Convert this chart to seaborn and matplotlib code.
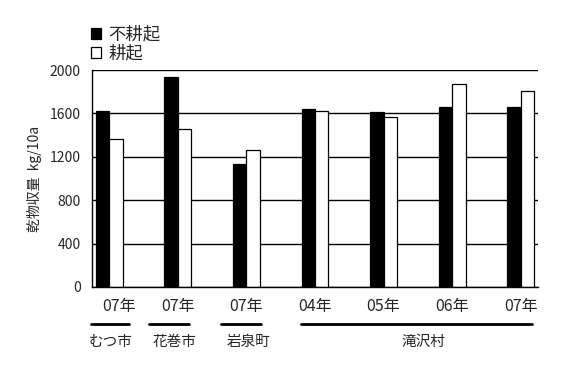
import numpy as np
import pandas as pd
import seaborn as sns
import matplotlib.pyplot as plt
import matplotlib.transforms as mtransforms

# 13 slots: site/year bars with empty spacer slots between them
slots = ["m07", "s1", "h07", "s2", "i07", "s3", "t04", "s4", "t05", "s5", "t06", "s6", "t07"]
year_labels = ["07年", "", "07年", "", "07年", "", "04年", "", "05年", "", "06年", "", "07年"]
no_till = [1620, np.nan, 1935, np.nan, 1130, np.nan, 1640, np.nan, 1610, np.nan, 1660, np.nan, 1660]
till = [1360, np.nan, 1460, np.nan, 1265, np.nan, 1620, np.nan, 1570, np.nan, 1870, np.nan, 1805]
series = ["不耕起", "耕起"]
sites = ["むつ市", "花巻市", "岩泉町", "滝沢村"]

df = pd.DataFrame({
    "slot": slots * 2,
    "value": no_till + till,
    "treat": [series[0]] * len(slots) + [series[1]] * len(slots),
})

sns.set_theme(style="white")
plt.rcParams["font.family"] = ["Noto Sans CJK JP", "DejaVu Sans"]

fig = plt.figure(figsize=(5.74, 3.77), dpi=100)
ax = fig.add_axes([92 / 574, 1 - 287 / 377, (538 - 92) / 574, (287 - 70) / 377])

sns.barplot(data=df, x="slot", y="value", hue="treat", order=slots,
            palette=["black", "white"], edgecolor="black", linewidth=0.9,
            width=0.78, ax=ax, legend=True)

ax.set_xlim(-0.5, len(slots) - 0.5)
ax.set_ylim(0, 2000)
ax.set_yticks(np.arange(0, 2001, 400))
ax.yaxis.grid(True, color="black", linewidth=1)
ax.set_axisbelow(True)
for s in ["top", "right"]:
    ax.spines[s].set_visible(False)
for s in ["left", "bottom"]:
    ax.spines[s].set_color("black")
    ax.spines[s].set_linewidth(1)

ax.set_xticks(range(len(slots)))
ax.set_xticklabels(year_labels, fontsize=11.5)
ax.set_xticks(np.arange(-0.5, len(slots)), minor=True)
ax.tick_params(axis="x", which="major", length=0, pad=8)
ax.tick_params(axis="x", which="minor", direction="in", length=3, color="black", width=1)
ax.tick_params(axis="y", length=0, pad=8, labelsize=10)
ax.set_xlabel("")
ax.set_ylabel("乾物収量  kg/10a", fontsize=10, labelpad=6)

# first label sits a bit right in the original
lbl = ax.get_xticklabels()[0]
lbl.set_transform(lbl.get_transform() + mtransforms.ScaledTranslation(0.1, 0, fig.dpi_scale_trans))

# site brackets under the year labels
trans = mtransforms.blended_transform_factory(ax.transData, ax.transAxes)
spans = [(-0.53, 0.58, 0.05), (1.17, 2.33, 1.9), (3.27, 4.44, 4.06), (5.58, 12.33, 9.17)]
for name, (x0, x1, xt) in zip(sites, spans):
    ax.plot([x0, x1], [-0.17, -0.17], color="black", linewidth=2, transform=trans, clip_on=False)
    ax.text(xt, -0.255, name, transform=trans, ha="center", va="center", fontsize=10.5)

leg = ax.legend(loc="upper left", bbox_to_anchor=(82 / 574, 1 - 17 / 377),
                bbox_transform=fig.transFigure, frameon=False, fontsize=12.5,
                handlelength=0.6, handleheight=0.6, handletextpad=0.4,
                labelspacing=0.05, borderpad=0)

fig.savefig("out.png", dpi=100)
